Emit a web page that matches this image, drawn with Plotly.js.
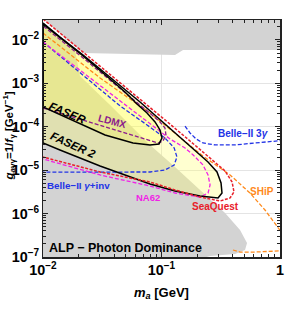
<!DOCTYPE html>
<html><head><meta charset="utf-8">
<script src="https://cdn.plot.ly/plotly-3.0.1.min.js"></script>
<style>html,body{margin:0;padding:0;background:#fff;}#chart{width:287px;height:318px;}</style>
</head><body><div id="chart"></div>
<script>
// ---- data (mass in GeV, coupling in GeV^-1) ----
const topGreyMass = [0.009, 0.0100, 0.0218, 0.130, 0.152, 1.2, 1.2, 0.009];
const topGreyCoupling = [0.0305, 0.0305, 0.00502, 0.00451, 0.00589, 0.00589, 0.05, 0.05];

const beamDumpMass = [0.009, 0.0100, 0.0153, 0.0186, 0.0205, 0.0368, 0.0659, 0.0800, 0.130, 0.224, 0.344, 0.460, 0.527, 0.507, 0.417, 0.257, 0.192, 0.009];
const beamDumpCoupling = [0.026, 0.026, 0.0100, 0.00589, 0.00148, 3.18e-4, 6.47e-5, 3.81e-5, 1.19e-5, 2.98e-6, 1.03e-6, 4.19e-7, 2.10e-7, 1.45e-7, 1.17e-7, 1.05e-7, 8.5e-8, 8.5e-8];

const faser2Mass = [0.0100, 0.0139, 0.0218, 0.0303, 0.0447, 0.0659, 0.107, 0.174, 0.247, 0.294, 0.318, 0.324, 0.300, 0.211, 0.130, 0.0800, 0.0492, 0.0303, 0.0139, 0.0100, 0.0100];
const faser2Coupling = [0.0246, 0.0117, 0.00451, 0.00215, 9.19e-4, 3.73e-4, 1.16e-4, 3.61e-5, 1.55e-5, 9.09e-6, 5.07e-6, 2.98e-6, 2.29e-6, 2.54e-6, 3.32e-6, 4.81e-6, 7.75e-6, 1.25e-5, 2.92e-5, 4.23e-5, 0.0246];

const faserMass = [0.0100, 0.0218, 0.0368, 0.0492, 0.0621, 0.0755, 0.0882, 0.0971, 0.101, 0.0953, 0.0800, 0.0575, 0.0334, 0.0169, 0.0100, 0.0100];
const faserCoupling = [0.0234, 0.00428, 0.00126, 6.34e-4, 3.35e-4, 2.08e-4, 1.29e-4, 8.44e-5, 5.52e-5, 4.02e-5, 3.81e-5, 4.23e-5, 6.47e-5, 1.51e-4, 2.86e-4, 0.0234];

const seaquestMass = [0.0100, 0.0139, 0.0218, 0.0303, 0.0447, 0.0659, 0.107, 0.174, 0.257, 0.344, 0.394, 0.409, 0.379, 0.312, 0.211, 0.130, 0.0800, 0.0303, 0.0100];
const seaquestCoupling = [0.0305, 0.0145, 0.00529, 0.00252, 0.00108, 4.37e-4, 1.44e-4, 4.71e-5, 1.91e-5, 9.59e-6, 5.35e-6, 3.15e-6, 2.29e-6, 1.95e-6, 2.41e-6, 3.50e-6, 5.35e-6, 9.09e-6, 2.01e-5];

const na62Mass = [0.0100, 0.0205, 0.0447, 0.0800, 0.118, 0.158, 0.185, 0.224, 0.247, 0.257, 0.247, 0.211, 0.130, 0.0800, 0.0303, 0.0100];
const na62Coupling = [0.00900, 0.00204, 3.93e-4, 1.22e-4, 5.24e-5, 3.25e-5, 2.24e-5, 1.32e-5, 7.75e-6, 4.56e-6, 2.98e-6, 2.41e-6, 2.98e-6, 4.32e-6, 7.75e-6, 1.81e-5];

const belleInvMass = [0.0100, 0.0205, 0.0447, 0.0755, 0.107, 0.128, 0.135, 0.128, 0.107, 0.0800, 0.0303, 0.0100];
const belleInvCoupling = [0.00900, 1.74e-3, 3.02e-4, 1.10e-4, 5.52e-5, 3.25e-5, 2.01e-5, 1.32e-5, 1.01e-5, 9.09e-6, 9.0e-6, 9.0e-6];

const belle3gMass = [0.158, 0.174, 0.196, 0.224, 0.283, 0.417, 0.615, 1.0, 1.1];
const belle3gCoupling = [1.04e-4, 7.20e-5, 5.24e-5, 4.23e-5, 3.81e-5, 3.81e-5, 4.23e-5, 4.71e-5, 4.9e-5];

const shipMass = [0.0100, 0.0303, 0.0800, 0.143, 0.224, 0.379, 0.558, 0.747, 1.0, 1.1, null, 0.401, 0.460, 0.615, 1.0, 1.1];
const shipCoupling = [0.0145, 0.00133, 2.08e-4, 5.82e-5, 2.12e-5, 7.75e-6, 2.98e-6, 1.21e-6, 4.19e-7, 2.9e-7, null, 1.45e-7, 1.30e-7, 1.30e-7, 1.37e-7, 1.4e-7];

const ldmxMass = [0.0100, 0.0334, 0.0542, 0.0800, 0.0934, 0.103, 0.109, 0.107, 0.0971, 0.0832, 0.0659, 0.0447, 0.0218, 0.0100];
const ldmxCoupling = [2.71e-4, 9.90e-5, 6.83e-5, 4.96e-5, 4.23e-5, 4.71e-5, 6.47e-5, 9.38e-5, 1.29e-4, 1.87e-4, 3.18e-4, 7.83e-4, 0.00385, 0.0210];

const labelTexts = ['<b><i>FASER</i></b>', '<b><i>FASER 2</i></b>', '<b>LDMX</b>', '<b>Belle−II 3<i>γ</i></b>',
  '<b>Belle−II <i>γ</i>+inv</b>', '<b>NA62</b>', '<b>SeaQuest</b>', '<b>SHiP</b>', '<b>ALP − Photon Dominance</b>',
  '<b><i>g</i><sub><i>a</i>γγ</sub>=1/<i>f</i><sub>γ</sub> [GeV<sup>−1</sup>]</b>'];

// ---- styling ----
const FONT = 'Liberation Sans, Arial, sans-serif';
const RED = '#e8202a', MAG = '#f022e6', BLUE = '#2233e6', ORANGE = '#ff8a1c', PURPLE = '#8c1a8c', GREY = '#d3d3d3';

function fillTrace(x, y, color) {
  return {x: x, y: y, type: 'scatter', mode: 'lines', fill: 'toself', fillcolor: color,
          line: {width: 0, color: 'rgba(0,0,0,0)'}, hoverinfo: 'skip'};
}
function lineTrace(x, y, color, dash, width) {
  return {x: x, y: y, type: 'scatter', mode: 'lines', connectgaps: false,
          line: {color: color, dash: dash, width: width || 1.3}, hoverinfo: 'skip'};
}

const traces = [
  fillTrace(topGreyMass, topGreyCoupling, GREY),
  fillTrace(beamDumpMass, beamDumpCoupling, GREY),
  fillTrace(faser2Mass, faser2Coupling, 'rgba(255,255,100,0.30)'),
  fillTrace(faserMass, faserCoupling, 'rgba(255,255,50,0.24)'),
  lineTrace(shipMass, shipCoupling, ORANGE, '4px,2px'),
  lineTrace(belle3gMass, belle3gCoupling, BLUE, '4px,2px'),
  lineTrace(belleInvMass, belleInvCoupling, BLUE, '4px,2px'),
  lineTrace(na62Mass, na62Coupling, MAG, '4px,2px'),
  lineTrace(ldmxMass, ldmxCoupling, PURPLE, '4px,2px'),
  lineTrace(faser2Mass, faser2Coupling, 'black', 'solid', 1.5),
  lineTrace(faserMass, faserCoupling, 'black', 'solid', 1.5),
  lineTrace(seaquestMass, seaquestCoupling, RED, '3px,1.5px', 1.5)
];

// label placement (paper coordinates), angle, colour, size
const labelPos = [
  [0.105, 0.608, 23, 'black', 11.5],
  [0.127, 0.473, 24, 'black', 11.5],
  [0.295, 0.572, 15, PURPLE, 10],
  [0.848, 0.519, 0, BLUE, 10],
  [0.148, 0.300, 0, BLUE, 9.8],
  [0.443, 0.253, 0, MAG, 9.5],
  [0.726, 0.215, 0, RED, 10],
  [0.924, 0.278, 0, ORANGE, 10],
  [0.350, 0.038, 0, 'black', 12.5],
  [-0.142, 0.51, -90, 'black', 11.5]
];
const annotations = labelTexts.map((t, i) => ({
  text: t, xref: 'paper', yref: 'paper', x: labelPos[i][0], y: labelPos[i][1],
  textangle: labelPos[i][2], showarrow: false, xanchor: 'center', yanchor: 'middle',
  borderpad: 0,
  font: {family: FONT, size: labelPos[i][4], color: labelPos[i][3]}
}));

const axisCommon = {
  type: 'log', dtick: 1, exponentformat: 'power',
  showline: true, linecolor: '#222', linewidth: 1.5, mirror: 'allticks',
  ticks: 'inside', ticklen: 5, tickwidth: 1, tickcolor: '#222',
  showgrid: true, gridcolor: '#e4e4e4', gridwidth: 1, zeroline: false,
  tickfont: {family: FONT, size: 11.5, color: 'black', weight: 'bold'},
  minor: {ticks: 'inside', ticklen: 3, tickcolor: '#222', dtick: 'D1', showgrid: false}
};

const layout = {
  width: 287, height: 318,
  margin: {l: 43, r: 7, t: 20, b: 61},
  paper_bgcolor: 'white', plot_bgcolor: 'white',
  showlegend: false,
  xaxis: Object.assign({}, axisCommon, {
    range: [-2, 0],
    title: {text: '<b><i>m</i><sub><i>a</i></sub> [GeV]</b>', font: {family: FONT, size: 13, color: 'black'}, standoff: 10}
  }),
  yaxis: Object.assign({}, axisCommon, {
    range: [-7, -1.54],
    ticklabelstandoff: 0
  }),
  annotations: annotations
};

Plotly.newPlot('chart', traces, layout, {staticPlot: true, displayModeBar: false});
</script></body></html>
